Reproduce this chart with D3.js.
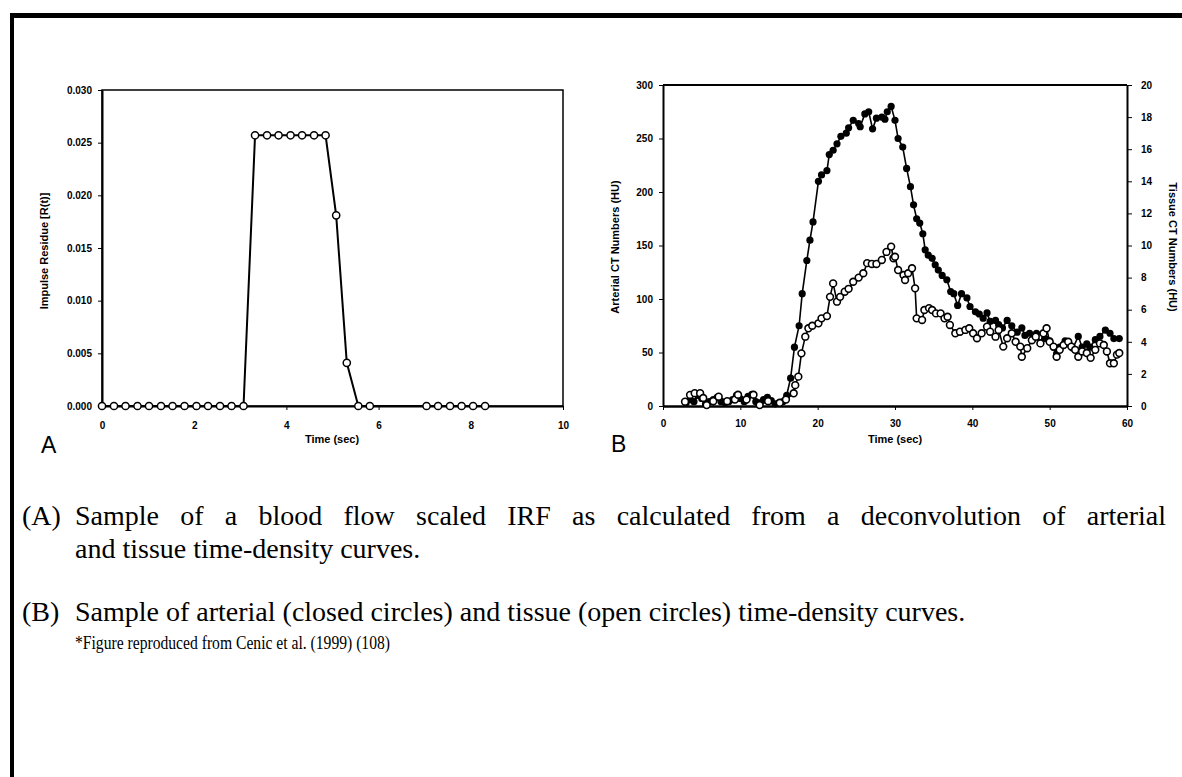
<!DOCTYPE html>
<html>
<head>
<meta charset="utf-8">
<script src="https://cdn.jsdelivr.net/npm/d3@7"></script>
<style>
  body { margin: 0; background: #fff; }
  svg { display: block; }
  .axis text { font-family: Arial, "Liberation Sans", sans-serif; font-weight: bold; font-size: 10px; fill: #000; }
  .axis path, .axis line { stroke: #000; }
  .title { font-family: Arial, "Liberation Sans", sans-serif; font-weight: bold; font-size: 11px; }
  .cap { font-family: "Times New Roman", "Liberation Serif", serif; font-size: 28px; }
</style>
</head>
<body>
<svg id="fig" width="1182" height="777"></svg>
<script>
// panel A: impulse residue function
const irfTime = [0, 0.26, 0.51, 0.77, 1.02, 1.28, 1.53, 1.79, 2.05, 2.30, 2.56, 2.81, 3.07,
  3.32, 3.58, 3.83, 4.09, 4.34, 4.60, 4.85, 5.08, 5.31, 5.56, 5.81,
  7.04, 7.29, 7.55, 7.80, 8.05, 8.31];
const irfValue = [0, 0, 0, 0, 0, 0, 0, 0, 0, 0, 0, 0, 0,
  0.0257, 0.0257, 0.0257, 0.0257, 0.0257, 0.0257, 0.0257, 0.0181, 0.0041, 0, 0,
  0, 0, 0, 0, 0, 0];
const irfXTicks = [0, 2, 4, 6, 8, 10];
const irfYTicks = [0, 0.005, 0.010, 0.015, 0.020, 0.025, 0.030];

// panel B: arterial (closed circles, left axis) and tissue (open circles, right axis)
const artTime = [3.0, 3.5, 4.0, 4.5, 5.0, 5.5, 6.0, 6.5, 7.0, 7.5, 8.0, 8.5, 9.0, 9.5, 10.0,
  10.5, 11.0, 11.5, 12.0, 12.5, 13.0, 13.5, 14.0, 14.5, 15.0, 15.5, 16.0, 16.5, 17.0, 17.6,
  18.0, 18.6, 19.0, 19.4, 20.1, 20.5, 21.2, 21.5, 22.0, 22.5, 23.0, 23.7, 24.0, 24.6, 25.3,
  25.5, 26.1, 26.6, 27.1, 27.6, 28.3, 28.7, 29.0, 29.5, 30.0, 30.4, 31.0, 31.5, 32.0, 32.4,
  32.8, 33.2, 33.6, 33.9, 34.3, 34.8, 35.2, 35.6, 36.1, 36.7, 37.2, 37.6, 38.1, 38.6, 39.3,
  39.7, 40.4, 40.9, 41.4, 41.9, 42.3, 43.0, 43.4, 43.9, 44.5, 45.1, 45.8, 46.4, 46.8, 47.4,
  47.9, 48.3, 48.8, 49.4, 50.0, 50.5, 50.9, 51.3, 52.0, 52.5, 53.0, 53.7, 54.2, 54.8, 55.2,
  55.9, 56.5, 57.2, 57.8, 58.3, 59.0];
const artHU = [3, 6, 4, 10, 7, 2, 4, 6, 8, 4, 3, 4, 6, 10, 7,
  4, 9, 11, 4, 3, 6, 8, 5, 2, 3, 4, 10, 26, 55, 75,
  105, 136, 155, 172, 210, 216, 220, 235, 239, 245, 252, 255, 260, 267, 264,
  261, 273, 275, 259, 269, 270, 268, 275, 280, 267, 250, 242, 222, 205, 188,
  175, 171, 161, 146, 141, 138, 132, 127, 122, 118, 107, 105, 94, 105, 101,
  93, 88, 86, 82, 87, 79, 80, 76, 73, 80, 75, 69, 73, 66, 68,
  63, 68, 59, 63, 61, 55, 49, 55, 61, 58, 54, 65, 55, 58, 55,
  62, 65, 71, 68, 63, 63];

const tisTime = [2.85, 3.5, 4.1, 4.8, 5.2, 5.65, 6.5, 7.2, 8.3, 9.3, 9.7, 10.8, 11.7, 12.5,
  13.6, 15.1, 15.9, 16.9, 17.1, 17.5, 17.9, 18.4, 18.8, 19.3, 20.1, 20.5, 21.2, 21.6, 22.0,
  22.5, 22.9, 23.5, 24.0, 24.6, 25.3, 25.9, 26.4, 27.0, 27.6, 28.3, 28.9, 29.5, 29.8, 30.0,
  30.4, 31.1, 31.3, 31.7, 32.2, 32.6, 32.8, 33.5, 33.8, 34.4, 34.8, 35.3, 35.9, 36.4, 36.8,
  37.1, 37.8, 38.4, 39.1, 39.6, 40.1, 40.6, 41.2, 41.9, 42.3, 43.0, 43.4, 44.0, 44.5, 45.1,
  45.6, 46.2, 46.4, 47.1, 47.7, 48.2, 48.8, 49.2, 49.6, 50.0, 50.5, 50.9, 51.3, 51.8, 52.4,
  52.8, 53.3, 53.7, 54.2, 54.8, 55.3, 55.9, 56.5, 57.0, 57.4, 57.8, 58.3, 58.7, 59.0];
const tisHU = [0.27, 0.69, 0.8, 0.8, 0.5, 0.06, 0.3, 0.58, 0.3, 0.4, 0.7, 0.4, 0.7, 0.06,
  0.3, 0.2, 0.4, 0.79, 1.3, 1.83, 3.28, 4.32, 4.84, 5.0, 5.15, 5.46, 5.6, 6.8, 7.64,
  6.5, 6.8, 7.12, 7.3, 7.74, 8.0, 8.27, 8.9, 8.85, 8.85, 9.1, 9.6, 9.93, 9.2, 9.3,
  8.47, 8.16, 7.85, 8.27, 8.58, 7.33, 5.46, 5.36, 5.98, 6.1, 5.98, 5.77, 5.77, 5.46, 5.56,
  5.05, 4.53, 4.63, 4.74, 4.84, 4.53, 4.22, 4.53, 4.94, 4.63, 4.32, 4.74, 3.7, 4.22, 4.53,
  4.0, 3.7, 3.07, 3.6, 4.1, 4.32, 3.9, 4.53, 4.84, 4.0, 3.7, 3.07, 3.5, 3.8, 4.0,
  3.7, 3.5, 3.07, 3.4, 3.3, 3.0, 3.5, 3.9, 3.8, 3.4, 2.66, 2.66, 3.2, 3.3];
const timeTicksB = [0, 10, 20, 30, 40, 50, 60];
const artTicks = [0, 50, 100, 150, 200, 250, 300];
const tisTicks = [0, 2, 4, 6, 8, 10, 12, 14, 16, 18, 20];

const captionA1 = 'Sample of a blood flow scaled IRF as calculated from a deconvolution of arterial';
const captionA2 = 'and tissue time-density curves.';
const captionB1 = 'Sample of arterial (closed circles) and tissue (open circles) time-density curves.';
const captionB2 = '*Figure reproduced from Cenic et al. (1999) (108)';

const svg = d3.select('#fig');

// page frame (thick rule at top and left)
svg.append('line').attr('x1', 10).attr('x2', 1182).attr('y1', 15.5).attr('y2', 15.5)
  .attr('stroke', '#000').attr('stroke-width', 5);
svg.append('line').attr('x1', 12).attr('x2', 12).attr('y1', 13).attr('y2', 777)
  .attr('stroke', '#000').attr('stroke-width', 4);

// ---------- panel A ----------
const xA = d3.scaleLinear().domain([0, 10]).range([102, 563]);
const yA = d3.scaleLinear().domain([0, 0.030]).range([406, 90]);

const gA = svg.append('g');
gA.append('rect').attr('x', xA(0)).attr('y', yA(0.030))
  .attr('width', xA(10) - xA(0)).attr('height', yA(0) - yA(0.030))
  .attr('fill', 'none').attr('stroke', '#000').attr('stroke-width', 1.5);

gA.append('g').attr('class', 'axis')
  .attr('transform', 'translate(0,' + yA(0) + ')')
  .call(d3.axisBottom(xA).tickValues(irfXTicks).tickFormat(d3.format('d')).tickSize(4).tickSizeOuter(0).tickPadding(12))
  .call(g => g.select('.domain').attr('stroke-width', 2));
gA.append('g').attr('class', 'axis')
  .attr('transform', 'translate(' + xA(0) + ',0)')
  .call(d3.axisLeft(yA).tickValues(irfYTicks).tickFormat(d3.format('.3f')).tickSize(4).tickSizeOuter(0).tickPadding(6))
  .call(g => g.select('.domain').attr('stroke-width', 2));

const irfPts = irfTime.map((t, i) => ({t: t, v: irfValue[i]}));
gA.append('path').datum(irfPts)
  .attr('fill', 'none').attr('stroke', '#000').attr('stroke-width', 2)
  .attr('d', d3.line().x(d => xA(d.t)).y(d => yA(d.v)));
gA.selectAll('circle').data(irfPts).enter().append('circle')
  .attr('cx', d => xA(d.t)).attr('cy', d => yA(d.v)).attr('r', 3.6)
  .attr('fill', '#fff').attr('stroke', '#000').attr('stroke-width', 1.5);

gA.append('text').attr('class', 'title')
  .attr('x', 332).attr('y', 443).attr('text-anchor', 'middle').text('Time (sec)');
gA.append('text').attr('class', 'title')
  .attr('transform', 'translate(48,251) rotate(-90)').attr('text-anchor', 'middle')
  .text('Impulse Residue [R(t)]');
svg.append('text').attr('x', 41).attr('y', 453)
  .style('font-family', 'Arial, "Liberation Sans", sans-serif').style('font-size', '23px')
  .text('A');

// ---------- panel B ----------
const xB = d3.scaleLinear().domain([0, 60]).range([663, 1127]);
const yBL = d3.scaleLinear().domain([0, 300]).range([406, 85]);
const yBR = d3.scaleLinear().domain([0, 20]).range([406, 85]);

const gB = svg.append('g');
gB.append('line').attr('x1', xB(0)).attr('x2', xB(60)).attr('y1', yBL(300)).attr('y2', yBL(300))
  .attr('stroke', '#000').attr('stroke-width', 2);

gB.append('g').attr('class', 'axis')
  .attr('transform', 'translate(0,' + yBL(0) + ')')
  .call(d3.axisBottom(xB).tickValues(timeTicksB).tickSize(4).tickSizeOuter(0).tickPadding(10))
  .call(g => g.select('.domain').attr('stroke-width', 2.5));
gB.append('g').attr('class', 'axis')
  .attr('transform', 'translate(' + xB(0) + ',0)')
  .call(d3.axisLeft(yBL).tickValues(artTicks).tickSize(4).tickSizeOuter(0).tickPadding(6))
  .call(g => g.select('.domain').attr('stroke-width', 2));
gB.append('g').attr('class', 'axis')
  .attr('transform', 'translate(' + xB(60) + ',0)')
  .call(d3.axisRight(yBR).tickValues(tisTicks).tickSize(5).tickSizeOuter(0).tickPadding(9))
  .call(g => g.select('.domain').attr('stroke-width', 2));

const artPts = artTime.map((t, i) => ({t: t, v: artHU[i]}));
const tisPts = tisTime.map((t, i) => ({t: t, v: tisHU[i]}));

gB.append('path').datum(artPts)
  .attr('fill', 'none').attr('stroke', '#000').attr('stroke-width', 1.6)
  .attr('d', d3.line().x(d => xB(d.t)).y(d => yBL(d.v)));
gB.append('g').selectAll('circle').data(artPts).enter().append('circle')
  .attr('cx', d => xB(d.t)).attr('cy', d => yBL(d.v)).attr('r', 3.6)
  .attr('fill', '#000');

gB.append('path').datum(tisPts)
  .attr('fill', 'none').attr('stroke', '#000').attr('stroke-width', 1.6)
  .attr('d', d3.line().x(d => xB(d.t)).y(d => yBR(d.v)));
gB.append('g').selectAll('circle').data(tisPts).enter().append('circle')
  .attr('cx', d => xB(d.t)).attr('cy', d => yBR(d.v)).attr('r', 3.4)
  .attr('fill', '#fff').attr('stroke', '#000').attr('stroke-width', 1.6);

gB.append('text').attr('class', 'title')
  .attr('x', 895).attr('y', 443).attr('text-anchor', 'middle').text('Time (sec)');
gB.append('text').attr('class', 'title')
  .attr('transform', 'translate(619,247) rotate(-90)').attr('text-anchor', 'middle')
  .text('Arterial CT Numbers (HU)');
gB.append('text').attr('class', 'title')
  .attr('transform', 'translate(1169,247) rotate(90)').attr('text-anchor', 'middle')
  .text('Tissue CT Numbers (HU)');
svg.append('text').attr('x', 611).attr('y', 452)
  .style('font-family', 'Arial, "Liberation Sans", sans-serif').style('font-size', '23px')
  .text('B');

// ---------- caption ----------
function capLine(x, y, txt, size, justifyTo) {
  const t = svg.append('text').attr('class', 'cap').attr('x', x).attr('y', y)
    .style('font-size', size + 'px').text(txt);
  if (justifyTo) {
    const w = t.node().getComputedTextLength();
    const gaps = txt.split(' ').length - 1;
    t.style('word-spacing', ((justifyTo - x - w) / gaps) + 'px');
  }
  return t;
}
capLine(22, 525, '(A)', 28);
capLine(75, 525, captionA1, 28, 1166);
capLine(75, 558, captionA2, 28);
capLine(22, 621, '(B)', 28);
capLine(75, 621, captionB1, 28);
capLine(75, 649, captionB2, 19)
  .attr('textLength', 315).attr('lengthAdjust', 'spacingAndGlyphs');
</script>
</body>
</html>
